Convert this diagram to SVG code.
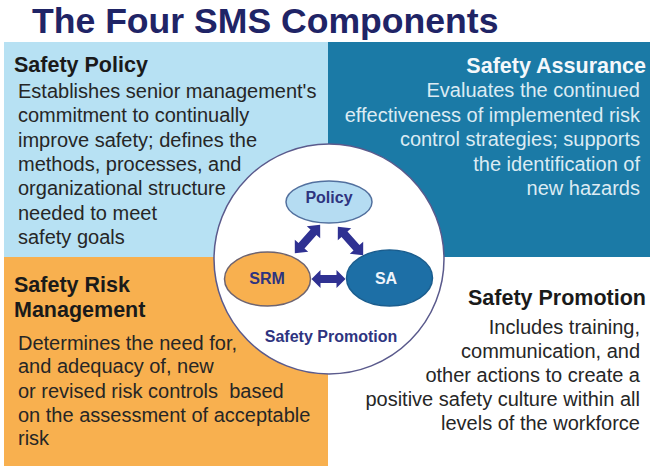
<svg xmlns="http://www.w3.org/2000/svg" width="650" height="468" viewBox="0 0 650 468">
<style>
.title{font-family:"Liberation Sans",Arial,sans-serif;font-weight:bold;font-size:35.6px;fill:#1f2466}
.head{font-family:"Liberation Sans",Arial,sans-serif;font-weight:bold;font-size:21.5px;fill:#1a1a1a}
.body{font-family:"Liberation Sans",Arial,sans-serif;font-size:20px;fill:#262626}
.headL{fill:#f4f8fb}
.bodyL{fill:#dcebf3}
.end{text-anchor:end}
.lbl{font-family:"Liberation Sans",Arial,sans-serif;font-weight:bold;font-size:16px;text-anchor:middle;fill:#2e3480}
.arrow{fill:#2f3192}
</style>
<rect x="0" y="0" width="650" height="468" fill="#ffffff"/>
<text class="title" x="32" y="33">The Four SMS Components</text>

<g id="panel-policy">
<rect x="4" y="42" width="324" height="215" fill="#b7e1f3"/>
<text class="head" x="14" y="72">Safety Policy</text>
<text class="body" x="18" y="98">Establishes senior management's</text>
<text class="body" x="18" y="122">commitment to continually</text>
<text class="body" x="18" y="147">improve safety; defines the</text>
<text class="body" x="18" y="171">methods, processes, and</text>
<text class="body" x="18" y="195">organizational structure</text>
<text class="body" x="18" y="220">needed to meet</text>
<text class="body" x="18" y="244">safety goals</text>
</g>

<g id="panel-assurance">
<rect x="328" y="42" width="322" height="215" fill="#1b7aa6"/>
<text class="head headL end" x="646" y="73">Safety Assurance</text>
<text class="body bodyL end" x="640" y="97">Evaluates the continued</text>
<text class="body bodyL end" x="640" y="122">effectiveness of implemented risk</text>
<text class="body bodyL end" x="640" y="146">control strategies; supports</text>
<text class="body bodyL end" x="640" y="171">the identification of</text>
<text class="body bodyL end" x="640" y="195">new hazards</text>
</g>

<g id="panel-srm">
<rect x="4" y="257" width="324" height="209" fill="#f8b04f"/>
<text class="head" x="14" y="292">Safety Risk</text>
<text class="head" x="14" y="317">Management</text>
<text class="body" x="18" y="350">Determines the need for,</text>
<text class="body" x="18" y="373">and adequacy of, new</text>
<text class="body" x="18" y="398" xml:space="preserve">or revised risk controls  based</text>
<text class="body" x="18" y="422">on the assessment of acceptable</text>
<text class="body" x="18" y="445">risk</text>
</g>

<g id="panel-promotion">
<text class="head end" x="646" y="305">Safety Promotion</text>
<text class="body end" x="640" y="334">Includes training,</text>
<text class="body end" x="640" y="358">communication, and</text>
<text class="body end" x="640" y="382">other actions to create a</text>
<text class="body end" x="640" y="406">positive safety culture within all</text>
<text class="body end" x="640" y="430">levels of the workforce</text>
</g>

<g id="circle-promotion">
<circle cx="329" cy="259" r="115" fill="#ffffff" stroke="#5a5a8c" stroke-width="1.5"/>
<text class="lbl" x="331" y="342">Safety Promotion</text>
</g>

<g id="node-policy">
<ellipse cx="329" cy="202" rx="43" ry="21" fill="#b5dcf2" stroke="#52709e" stroke-width="1.5"/>
<text class="lbl" x="329" y="203">Policy</text>
</g>
<g id="node-srm">
<ellipse cx="267.500" cy="279" rx="43" ry="27" fill="#f8b04f" stroke="#6e6470" stroke-width="1.5"/>
<text class="lbl" x="267" y="284">SRM</text>
</g>
<g id="node-sa">
<ellipse cx="389.500" cy="278" rx="43" ry="28" fill="#1d6fa6" stroke="#1a5d8e" stroke-width="1.5"/>
<text class="lbl" x="386" y="284" style="fill:#eef4fb">SA</text>
</g>

<g id="connectors">
<path class="arrow" transform="translate(307.500,239) rotate(-48.200)" d="M-19,0 L-9,-9 L-9,-4 L9,-4 L9,-9 L19,0 L9,9 L9,4 L-9,4 L-9,9 Z"/>
<path class="arrow" transform="translate(350.500,241) rotate(48.200)" d="M-19,0 L-9,-9 L-9,-4 L9,-4 L9,-9 L19,0 L9,9 L9,4 L-9,4 L-9,9 Z"/>
<path class="arrow" transform="translate(328.500,279)" d="M-17,0 L-8,-9 L-8,-4 L8,-4 L8,-9 L17,0 L8,9 L8,4 L-8,4 L-8,9 Z"/>
</g>
</svg>
